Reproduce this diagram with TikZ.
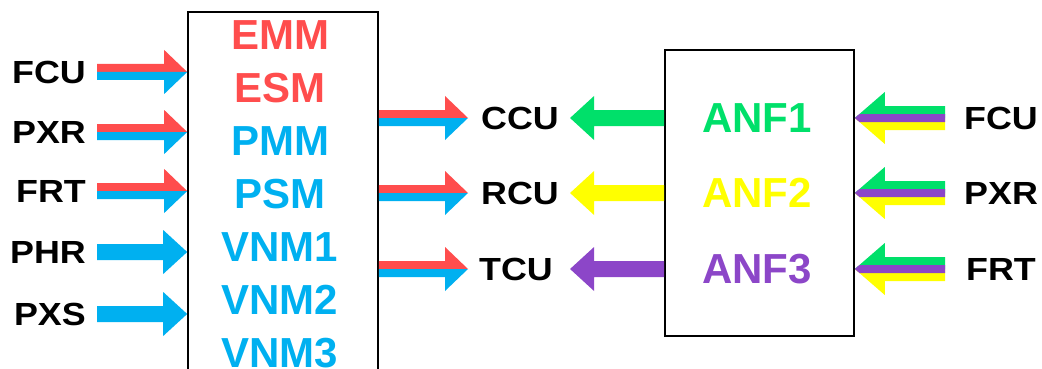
\documentclass[tikz,border=0pt]{standalone}
\usepackage{fontspec}
\setmainfont{Liberation Sans}
\newfontfamily\lblfont[FakeStretch=1.12]{Liberation Sans}
\usetikzlibrary{calc}
\definecolor{mred}{HTML}{FF4D4D}
\definecolor{mblue}{HTML}{00B0F0}
\definecolor{mgreen}{HTML}{00E06A}
\definecolor{myellow}{HTML}{FFFF00}
\definecolor{mpurple}{HTML}{8C46C8}
\tikzset{
  lbl/.style={font=\lblfont\fontsize{32}{38}\selectfont\bfseries,inner sep=0pt},
  modname/.style={font=\fontsize{42}{48}\selectfont\bfseries,inner sep=0pt},
  unit/.style={draw,line width=1.6pt,inner sep=0pt},
}
% frecce a blocco
\newcommand{\solidarrow}[3]{%
  \coordinate (hb) at ($(#2)!24pt!(#1)$);
  \fill[#3] ($(#1)+(0,-8)$) -- ($(hb)+(0,-8)$) -- ($(hb)+(0,-22)$) -- (#2)
    -- ($(hb)+(0,22)$) -- ($(hb)+(0,8)$) -- ($(#1)+(0,8)$) -- cycle;}
\newcommand{\duoarrow}[4]{%
  \coordinate (hb) at ($(#2)!23pt!(#1)$);
  \fill[#3] ($(#1)+(0,-8)$) -- ($(hb)+(0,-8)$) -- ($(hb)+(0,-22)$) -- (#2) -- (hb) -- (#1) -- cycle;
  \fill[#4] (#1) -- (hb) -- (#2) -- ($(hb)+(0,22)$) -- ($(hb)+(0,8)$) -- ($(#1)+(0,8)$) -- cycle;}
\newcommand{\trioarrow}[5]{%
  \coordinate (hb) at ($(#2)!30pt!(#1)$);
  \fill[#3] ($(#1)+(0,-12)$) -- ($(hb)+(0,-12)$) -- ($(hb)+(0,-26)$) -- (#2) -- (hb) -- (#1) -- cycle;
  \fill[#5] (#1) -- (hb) -- (#2) -- ($(hb)+(0,26)$) -- ($(hb)+(0,12)$) -- ($(#1)+(0,12)$) -- cycle;
  \fill[#4] ($(#1)+(0,-4)$) -- ($(#2)!4.6pt!(#1)+(0,-4)$) -- (#2)
    -- ($(#2)!4.6pt!(#1)+(0,4)$) -- ($(#1)+(0,4)$) -- cycle;}
\begin{document}
\begin{tikzpicture}[x=1pt,y=-1pt]
  \useasboundingbox (0,0) rectangle (1042,369);
  \clip (0,0) rectangle (1042,369);
  %blocchi
  \node[unit,minimum width=190pt,minimum height=388pt] (core) at (283,206) {};
  \node[unit,minimum width=189pt,minimum height=286pt] (anf) at (759.5,193) {};
  %moduli
  \node[modname,text=mred] (emm) at (280,35) {EMM};
  \node[modname,text=mred] (esm) at (280,88) {ESM};
  \node[modname,text=mblue] (pmm) at (280,141) {PMM};
  \node[modname,text=mblue] (psm) at (280,194) {PSM};
  \node[modname,text=mblue] (vnm1) at (280,247) {VNM1};
  \node[modname,text=mblue] (vnm2) at (280,300) {VNM2};
  \node[modname,text=mblue] (vnm3) at (280,353) {VNM3};
  \node[modname,text=mgreen] (anf1) at (757,118) {ANF1};
  \node[modname,text=myellow] (anf2) at (757,193) {ANF2};
  \node[modname,text=mpurple] (anf3) at (757,269) {ANF3};
  %ingressi a sinistra
  \node[lbl,anchor=east] (lfcu) at (86,72) {FCU};
  \node[lbl,anchor=east] (lpxr) at (86,132) {PXR};
  \node[lbl,anchor=east] (lfrt) at (86,191) {FRT};
  \node[lbl,anchor=east] (lphr) at (86,252) {PHR};
  \node[lbl,anchor=east] (lpxs) at (86,314) {PXS};
  %uscite
  \node[lbl,anchor=west] (ccu) at (481,118) {CCU};
  \node[lbl,anchor=west] (rcu) at (481,193) {RCU};
  \node[lbl,anchor=west] (tcu) at (479,269) {TCU};
  %ingressi a destra
  \node[lbl,anchor=west] (rfcu) at (964,118) {FCU};
  \node[lbl,anchor=west] (rpxr) at (964,193) {PXR};
  \node[lbl,anchor=west] (rfrt) at (966,269) {FRT};
  %frecce verso core
  \foreach \n in {lfcu,lpxr,lfrt}{
    \coordinate (a) at ($(\n.east)+(11,0)$);
    \coordinate (b) at (core.west |- \n);
    \duoarrow{a}{b}{mred}{mblue}
  }
  \foreach \n in {lphr,lpxs}{
    \coordinate (a) at ($(\n.east)+(11,0)$);
    \coordinate (b) at (core.west |- \n);
    \solidarrow{a}{b}{mblue}
  }
  %frecce da core
  \foreach \n in {ccu,rcu,tcu}{
    \coordinate (a) at (core.east |- \n);
    \coordinate (b) at ($(ccu.west |- \n)+(-13,0)$);
    \duoarrow{a}{b}{mred}{mblue}
  }
  %frecce da anf
  \coordinate (a) at (anf.west |- ccu); \coordinate (b) at ($(ccu.east)+(11,0)$);
  \solidarrow{a}{b}{mgreen}
  \coordinate (a) at (anf.west |- rcu); \coordinate (b) at ($(ccu.east |- rcu)+(11,0)$);
  \solidarrow{a}{b}{myellow}
  \coordinate (a) at (anf.west |- tcu); \coordinate (b) at ($(ccu.east |- tcu)+(11,0)$);
  \solidarrow{a}{b}{mpurple}
  %frecce verso anf
  \foreach \n in {rfcu,rpxr,rfrt}{
    \coordinate (a) at ($(rfcu.west |- \n)+(-19,0)$);
    \coordinate (b) at (anf.east |- \n);
    \trioarrow{a}{b}{mgreen}{mpurple}{myellow}
  }
\end{tikzpicture}
\end{document}
